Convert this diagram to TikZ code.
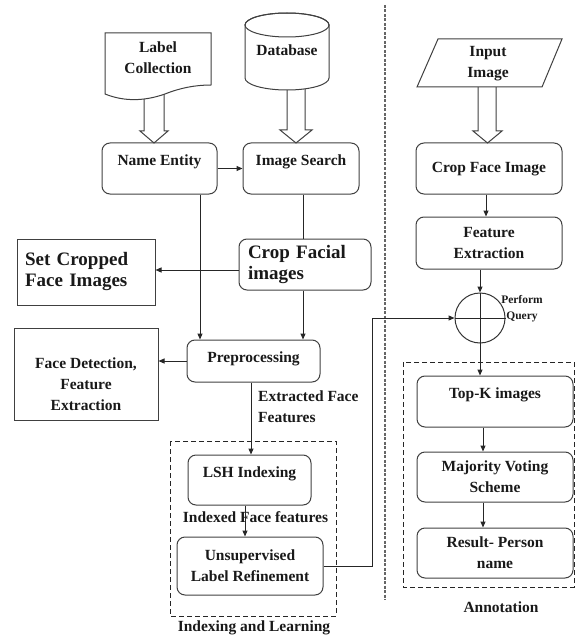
\documentclass[tikz,border=0pt]{standalone}
\usepackage{fontspec}
\setmainfont{Liberation Serif}
\usetikzlibrary{arrows.meta,shapes.geometric}
\begin{document}
\begin{tikzpicture}[x=1pt,y=-1pt,
  every node/.style={font=\bfseries\fontsize{15.5}{21}\selectfont, text=black!90, inner sep=0pt},
  rbox/.style={draw=black!75, line width=1pt, rounded corners=8pt},
  sbox/.style={draw=black!75, line width=1pt},
  conn/.style={draw=black!85, line width=1pt},
  arr/.style={conn, -{Triangle[length=6pt,width=5pt]}},
  shapeline/.style={draw=black!75, line width=1pt},
  hollow/.style={draw=black!75, line width=1pt, fill=white},
  dbox/.style={draw=black!85, line width=1pt, dash pattern=on 5pt off 3pt},
  bigtxt/.style={font=\bfseries\fontsize{19}{21}\selectfont},
  smalltxt/.style={font=\bfseries\fontsize{11.5}{16}\selectfont},
]
\useasboundingbox (0,0) rectangle (575,639);

% hollow arrows (drawn first, shapes on top)
\path[hollow] (144,90) -- (144,131) -- (140,131) -- (154,143) -- (168,131) -- (164,131) -- (164,90) -- cycle;
\path[hollow] (287,80) -- (287,130) -- (280,130) -- (296,143) -- (312,130) -- (305,130) -- (305,80) -- cycle;
\path[hollow] (478,80) -- (478,131) -- (473,131) -- (487.5,143) -- (502,131) -- (496,131) -- (496,80) -- cycle;

% Label Collection (document shape)
\draw[shapeline, fill=white] (105,33) -- (211,33) -- (211,85)
  .. controls (195,85) and (180,88) .. (165,94)
  .. controls (145,101) and (125,102) .. (105,94) -- cycle;
\node[align=center] (lc) at (158,57.5) {Label\\Collection};

% Database (cylinder)
\draw[shapeline, fill=white] (245,25) -- (245,78)
  arc[start angle=180, end angle=360, x radius=42pt, y radius=12pt] -- (329,25)
  arc[start angle=0, end angle=180, x radius=42pt, y radius=12pt] -- cycle;
\draw[shapeline] (287,25) ellipse[x radius=42pt, y radius=12pt];
\node (db) at (287,50) {Database};

% Input Image (parallelogram)
\draw[shapeline, fill=white] (438,39) -- (562,39) -- (542,87) -- (417,87) -- cycle;
\node[align=center] (ii) at (488,63.5) {Input\\Image};

% left column boxes
\node[rbox, minimum width=115pt, text height=22pt, text depth=29pt] (ne) at (159.5,168.5) {Name Entity};
\node[rbox, minimum width=116pt, text height=22pt, text depth=29pt] (is) at (301,168.5) {Image Search};
\node[rbox, bigtxt, minimum width=132pt, minimum height=51pt, text width=114pt, align=left] (cf) at (305,264.5) {Crop Facial\\images};
\node[sbox, bigtxt, minimum width=138pt, minimum height=66pt, text width=122pt, align=left] (sc) at (86,272) {Set Cropped\\Face Images};
\node[rbox, minimum width=133pt, text height=22pt, text depth=20pt] (pp) at (253.5,361) {Preprocessing};
\node[sbox, minimum width=144pt, minimum height=92pt] (fd) at (86,374) {};
\node[align=center] (fdt) at (86,384) {Face Detection,\\Feature\\Extraction};
\node[align=left, anchor=west] (eff) at (258,406.5) {Extracted Face\\Features};

% Indexing and Learning
\draw[dbox] (170,441) rectangle (336,616);
\node (il) at (254,628) {Indexing and Learning};
\node[rbox, minimum width=123pt, text height=22pt, text depth=28pt] (lsh) at (249.5,480) {LSH Indexing};
\node (iff) at (255.5,517) {Indexed Face features};
\node[rbox, minimum width=146pt, minimum height=58pt, align=center] (ul) at (250,566) {Unsupervised\\Label Refinement};

% separator
\draw[black!60, line width=1.2pt, dash pattern=on 3pt off 1.5pt] (385,5) -- (385,600);

% right column
\node[rbox, minimum width=146pt, text height=29pt, text depth=22pt] (cfi) at (489,168.5) {Crop Face Image};
\node[rbox, minimum width=146pt, minimum height=52pt, align=center] (fe) at (489,243) {Feature\\Extraction};
\node[circle, draw=black!80, line width=1pt, minimum size=50pt] (q) at (480,318) {};
\draw[conn] (q.north) -- (q.south);
\draw[conn] (q.west) -- (q.east);
\node[smalltxt, align=center] (pq) at (522,309) {Perform\\Query};

\draw[dbox] (403,362) rectangle (574,587);
\node (an) at (501,607) {Annotation};
\node[rbox, minimum width=156pt, text height=22pt, text depth=29pt] (tk) at (495,401.5) {Top-K images};
\node[rbox, minimum width=156pt, minimum height=50pt, align=center] (mv) at (495,477) {Majority Voting\\Scheme};
\node[rbox, minimum width=156pt, minimum height=50pt, align=center] (rs) at (495,553) {Result- Person\\name};

% connectors left
\draw[arr] (ne.east) -- (is.west);
\draw[arr] ([xshift=40.5pt]ne.south) -- ([xshift=40.5pt]ne.south |- pp.north);
\draw[conn] ([xshift=2pt]is.south) -- ([xshift=2pt]is.south |- cf.north);
\draw[arr] ([yshift=-5.5pt]cf.west) -- ([yshift=-5.5pt]cf.west -| sc.east);
\draw[arr] ([xshift=-2pt]cf.south) -- ([xshift=-2pt]cf.south |- pp.north);
\draw[arr] (pp.west) -- (pp.west -| fd.east);
\draw[arr] ([xshift=-2.5pt]pp.south) -- ([xshift=-2.5pt]pp.south |- lsh.north);
\draw[arr] ([xshift=-4.5pt]lsh.south) -- ([xshift=-4.5pt]lsh.south |- ul.north);
\draw[arr] (ul.east) -- ++(49,0) |- (q.west);

% connectors right
\draw[arr] ([xshift=-3pt]cfi.south) -- ([xshift=-3pt]cfi.south |- fe.north);
\draw[arr] (q.north |- fe.south) -- (q.north);
\draw[arr] (q.south) -- (q.south |- tk.north);
\draw[arr] ([xshift=-12pt]tk.south) -- ([xshift=-12pt]tk.south |- mv.north);
\draw[arr] ([xshift=-12pt]mv.south) -- ([xshift=-12pt]mv.south |- rs.north);
\end{tikzpicture}
\end{document}
